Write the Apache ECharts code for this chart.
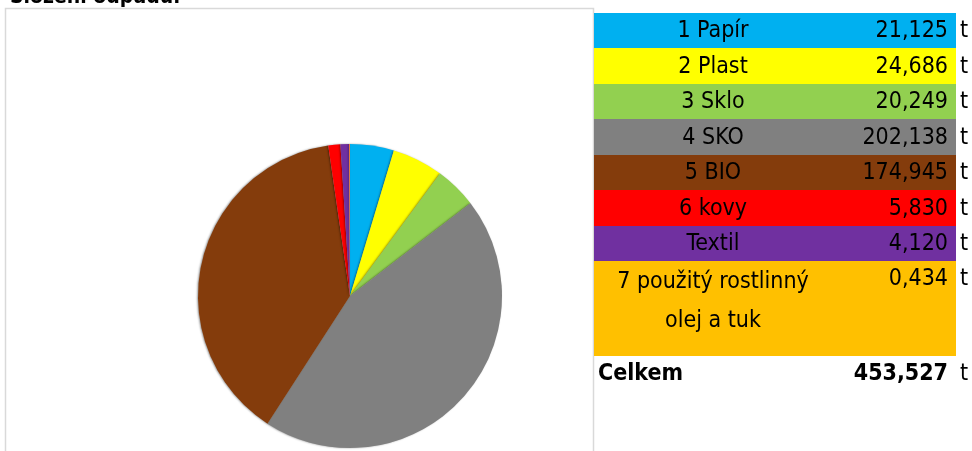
<!DOCTYPE html>
<html>
<head>
<meta charset="utf-8">
<script src="https://cdn.jsdelivr.net/npm/echarts@6/dist/echarts.min.js"></script>
<style>html,body{margin:0;padding:0;background:#fff}#c{width:972px;height:451px}</style>
</head>
<body>
<div id="c"></div>
<script>
const titleText = 'Složení odpadu:';
const categories = ['1 Papír', '2 Plast', '3 Sklo', '4 SKO', '5 BIO', '6 kovy', 'Textil', '7 použitý rostlinný\nolej a tuk'];
const values = [21.125, 24.686, 20.249, 202.138, 174.945, 5.830, 4.120, 0.434];
const valueLabels = ['21,125', '24,686', '20,249', '202,138', '174,945', '5,830', '4,120', '0,434'];
const unit = 't';
const totalLabel = 'Celkem';
const totalValue = '453,527';
const pieColors = ['#00B0F0', '#FFFF00', '#92D050', '#808080', '#843C0C', '#FF0000', '#7030A0', '#ED7D31'];
const rowColors = ['#00B0F0', '#FFFF00', '#92D050', '#808080', '#843C0C', '#FF0000', '#7030A0', '#FFC000'];

const FONT = "'DejaVu Sans Condensed', sans-serif";
const chart = echarts.init(document.getElementById('c'), null, {renderer: 'canvas'});

// table geometry
const tX0 = 594, tX1 = 956, labelCx = 713, valueRight = 948, unitX = 960;
const rowH = [35, 36, 35, 36, 35, 36, 35, 95];
const graphics = [];
graphics.push({type: 'rect', shape: {x: 5.5, y: 8.5, width: 588, height: 460}, style: {fill: 'none', stroke: '#D9D9D9', lineWidth: 1.5}, z: 0});
let y = 13;
categories.forEach((c, i) => {
  const h = rowH[i];
  graphics.push({type: 'rect', shape: {x: tX0, y: y, width: tX1 - tX0, height: h}, style: {fill: rowColors[i]}, z: 1});
  const multi = c.indexOf('\n') >= 0;
  const cy = multi ? y + 18 : y + h / 2 + 1;
  graphics.push({type: 'text', x: labelCx, y: multi ? y + 2 : cy, z: 2,
    style: {text: c, font: '23px ' + FONT, fill: '#000', align: 'center', verticalAlign: multi ? 'top' : 'middle', lineHeight: 39}});
  graphics.push({type: 'text', x: valueRight, y: cy, z: 2,
    style: {text: valueLabels[i], font: '23px ' + FONT, fill: '#000', align: 'right', verticalAlign: 'middle'}});
  graphics.push({type: 'text', x: unitX, y: cy, z: 2,
    style: {text: unit, font: '23px ' + FONT, fill: '#000', align: 'left', verticalAlign: 'middle'}});
  y += h;
});
const ty = y + 18;
graphics.push({type: 'text', x: 598, y: ty, z: 2, style: {text: totalLabel, font: 'bold 23px ' + FONT, fill: '#000', align: 'left', verticalAlign: 'middle'}});
graphics.push({type: 'text', x: valueRight, y: ty, z: 2, style: {text: totalValue, font: 'bold 23px ' + FONT, fill: '#000', align: 'right', verticalAlign: 'middle'}});
graphics.push({type: 'text', x: unitX, y: ty, z: 2, style: {text: unit, font: '23px ' + FONT, fill: '#000', align: 'left', verticalAlign: 'middle'}});
graphics.push({type: 'text', x: 10, y: 8, z: 2, style: {text: titleText, font: 'bold 21px ' + FONT, fill: '#000', align: 'left', verticalAlign: 'bottom'}});

chart.setOption({
  animation: false,
  backgroundColor: '#fff',
  graphic: graphics,
  series: [{
    type: 'pie',
    center: [350, 296],
    radius: 152,
    startAngle: 90,
    clockwise: true,
    label: {show: false},
    labelLine: {show: false},
    emphasis: {disabled: true},
    itemStyle: {borderWidth: 0, shadowBlur: 2, shadowColor: 'rgba(0,0,0,0.4)', shadowOffsetX: -1, shadowOffsetY: 0},
    data: categories.map((c, i) => ({name: c, value: values[i], itemStyle: {color: pieColors[i]}}))
  }]
});
</script>
</body>
</html>
